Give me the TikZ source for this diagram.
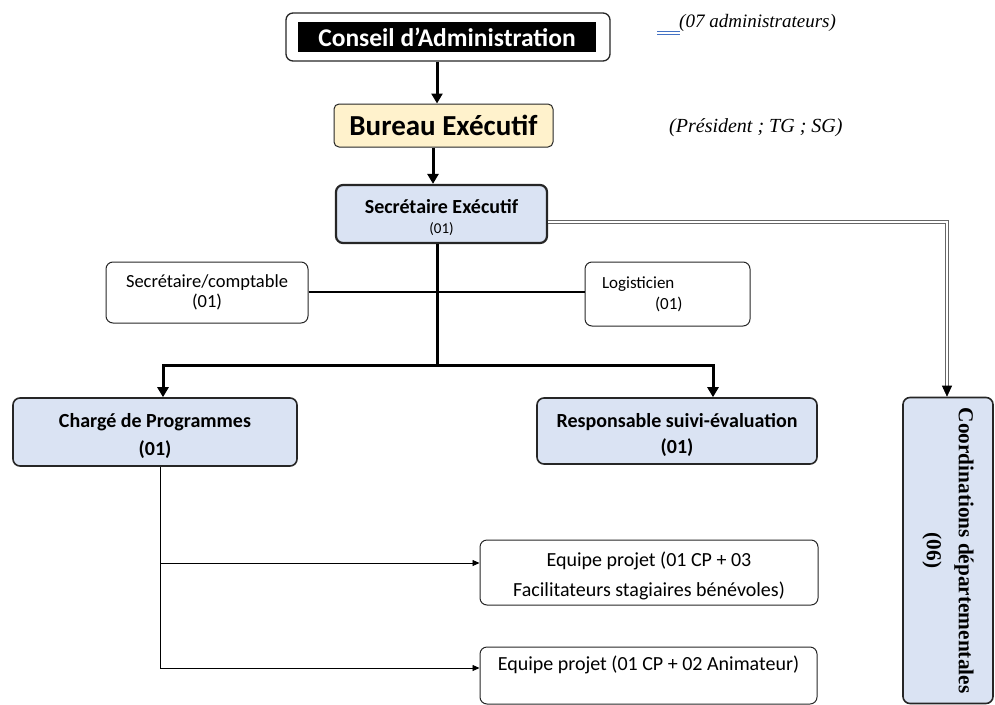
\documentclass[tikz,border=0pt]{standalone}
\usepackage{fontspec}
\setmainfont{Carlito}
\newfontfamily\timesfont{Liberation Serif}
\usetikzlibrary{arrows.meta}
\definecolor{paleblue}{HTML}{DAE3F3}
\definecolor{paleyellow}{HTML}{FFF2CC}
\definecolor{linkblue}{HTML}{4472C4}
\tikzset{
  box/.style={draw=black!85, rounded corners=7pt, line width=1pt, align=center},
  bluebox/.style={box, fill=paleblue, line width=1.6pt},
  bigarrow/.style={line width=3pt, -{Triangle[length=10pt,width=11pt]}},
  smallarrow/.style={line width=0.8pt, -{Triangle[length=7pt,width=6pt]}},
  dblline/.style={draw=white, line width=1.3pt, preaction={draw=black!60, line width=3.2pt}},
}
\begin{document}
\begin{tikzpicture}[x=1pt,y=-1pt]
\useasboundingbox (0,0) rectangle (995,704);

\node[box, line width=1.3pt, minimum width=324pt, minimum height=48pt] (ca) at (448,37) {};
\node[fill=black, text=white, minimum width=298pt, minimum height=30pt, inner sep=0pt,
      font=\fontsize{25.5}{28}\selectfont\bfseries] (catext) at (447,37) {Conseil d’Administration};
\node[anchor=west, inner sep=0pt, font=\timesfont\itshape\fontsize{19}{22}\selectfont] (canote) at (679,23) {(07 administrateurs)};
\draw[linkblue, line width=1pt] (657,31) -- (680,31) (657,34) -- (680,34);

\node[box, fill=paleyellow, rounded corners=5pt, minimum width=219pt, minimum height=43pt,
      font=\fontsize{29}{32}\selectfont\bfseries] (be) at (443.5,125.5) {Bureau Exécutif};
\node[anchor=west, inner sep=0pt, font=\timesfont\itshape\fontsize{20}{23}\selectfont] (benote) at (669,128) {(Président ; TG ; SG)};

\node[box, fill=paleblue, line width=2.2pt, minimum width=211pt, minimum height=58pt,
      font=\fontsize{20}{23}\selectfont] (se) at (441.5,214)
  {\rule{0pt}{21pt}\textbf{Secrétaire Exécutif}\\[-3pt]{\fontsize{15}{17}\selectfont (01)}};

\node[box, minimum width=202pt, minimum height=61pt, font=\fontsize{18.5}{20}\selectfont] (sc) at (207,292.5)
  {Secrétaire/comptable\\(01)};
\node[box, align=left, text width=131pt, inner xsep=17pt, minimum height=64pt, font=\fontsize{17}{21}\selectfont] (lg) at (667.5,294)
  {Logisticien\\\hspace*{53pt}(01)};

\node[bluebox, minimum width=284pt, minimum height=68pt, font=\fontsize{20}{28}\selectfont\bfseries] (cp) at (155,432)
  {\rule{0pt}{23pt}Chargé de Programmes\\(01)};
\node[bluebox, minimum width=280pt, minimum height=66pt, font=\fontsize{20}{26}\selectfont\bfseries] (rs) at (677,431)
  {\rule{0pt}{23pt}Responsable suivi-évaluation\\(01)};
\node[bluebox, rotate=-90, minimum width=306pt, minimum height=90pt,
      font=\timesfont\bfseries\fontsize{21.3}{32}\selectfont] (cd) at (948,550.5)
  {Coordinations départementales\\(06)};

\node[box, minimum width=338pt, minimum height=65pt, font=\fontsize{20}{30}\selectfont] (e1) at (649,572.5)
  {\rule{0pt}{21pt}Equipe projet (01 CP + 03\\Facilitateurs stagiaires bénévoles)};
\node[box, minimum width=337pt, minimum height=57pt, font=\fontsize{20}{25}\selectfont] (e2) at (648.5,675.5)
  {Equipe projet (01 CP + 02 Animateur)\\~};

\coordinate (trunk) at (437,365);
\coordinate (spine) at (160,466);

\draw[bigarrow] (ca.south -| trunk) -- (be.north -| trunk);
\draw[bigarrow] ([xshift=-4pt]be.south -| trunk) -- ([xshift=-4pt]se.north -| trunk);
\draw[line width=3pt] (se.south -| trunk) -- (trunk);
\draw[bigarrow] (trunk) -| ([xshift=8pt]cp.north);
\draw[bigarrow] (trunk) -| ([xshift=36pt]rs.north);
\draw[line width=2.2pt] (sc.east |- 0,292) -- (lg.west |- 0,292);

\draw[dblline] ([yshift=-8pt]se.east) -| ([xshift=-1pt,yshift=10pt]cd.west);
\draw[line width=0.6pt, -{Triangle[length=11pt,width=10pt]}] ([xshift=-1pt,yshift=11pt]cd.west) -- ([xshift=-1pt]cd.west);

\draw[line width=0.8pt] (spine |- cp.south) -- (spine |- 0,668);
\draw[smallarrow] (spine |- 0,563) -- ([yshift=9.5pt]e1.west);
\draw[smallarrow] (spine |- 0,668) -- ([yshift=7.5pt]e2.west);
\end{tikzpicture}
\end{document}
